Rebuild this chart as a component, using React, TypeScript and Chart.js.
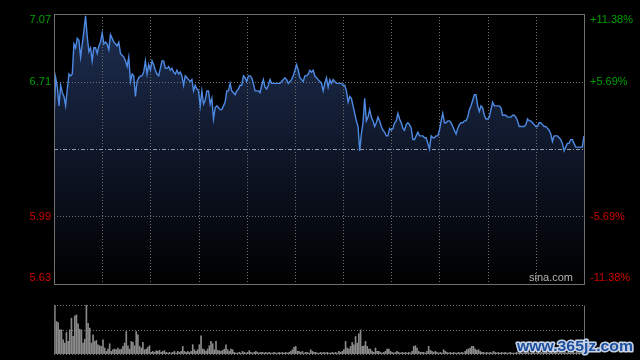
import { useEffect, useRef } from "react";
import { Chart, registerables } from "chart.js";

Chart.register(...registerables);

const prices: number[] = [
  6.51, 6.73, 6.68, 6.58, 6.69, 6.65, 6.63, 6.58, 6.67, 6.75,
  6.74, 6.75, 6.91, 6.89, 6.94, 6.93, 6.84, 6.91, 6.98, 7.06,
  6.95, 6.87, 6.89, 6.82, 6.89, 6.89, 6.86, 6.90, 6.92, 6.97,
  6.91, 6.92, 6.91, 6.88, 6.96, 6.94, 6.92, 6.91, 6.90, 6.92,
  6.86, 6.85, 6.84, 6.82, 6.79, 6.84, 6.71, 6.75, 6.74, 6.63,
  6.71, 6.73, 6.74, 6.74, 6.76, 6.82, 6.75, 6.80, 6.77, 6.82,
  6.80, 6.77, 6.75, 6.74, 6.78, 6.82, 6.82, 6.78, 6.78, 6.79,
  6.77, 6.78, 6.76, 6.75, 6.77, 6.75, 6.76, 6.74, 6.69, 6.74,
  6.73, 6.72, 6.71, 6.72, 6.66, 6.69, 6.67, 6.66, 6.58, 6.66,
  6.59, 6.61, 6.66, 6.66, 6.59, 6.62, 6.51, 6.57, 6.58, 6.57,
  6.56, 6.56, 6.58, 6.60, 6.66, 6.66, 6.70, 6.66, 6.65, 6.64,
  6.66, 6.67, 6.69, 6.69, 6.74, 6.73, 6.71, 6.74, 6.74, 6.73,
  6.70, 6.66, 6.66, 6.66, 6.65, 6.69, 6.72, 6.68, 6.67, 6.69,
  6.72, 6.70, 6.70, 6.70, 6.70, 6.70, 6.70, 6.71, 6.72, 6.73,
  6.72, 6.70, 6.71, 6.72, 6.74, 6.77, 6.80, 6.77, 6.73, 6.72,
  6.71, 6.74, 6.74, 6.75, 6.77, 6.76, 6.77, 6.74, 6.73, 6.72,
  6.71, 6.70, 6.66, 6.70, 6.73, 6.68, 6.72, 6.70, 6.72, 6.71,
  6.70, 6.70, 6.70, 6.70, 6.69, 6.69, 6.66, 6.60, 6.63, 6.62,
  6.58, 6.54, 6.50, 6.47, 6.34, 6.43, 6.49, 6.62, 6.50, 6.52,
  6.56, 6.52, 6.50, 6.47, 6.49, 6.52, 6.50, 6.47, 6.45, 6.44,
  6.42, 6.42, 6.46, 6.45, 6.46, 6.49, 6.50, 6.54, 6.51, 6.49,
  6.46, 6.45, 6.48, 6.49, 6.48, 6.46,
  6.40, 6.40, 6.42, 6.44, 6.42, 6.42, 6.42, 6.41, 6.41, 6.38,
  6.35, 6.42, 6.41, 6.41, 6.42, 6.42, 6.45, 6.50, 6.54, 6.49,
  6.49, 6.50, 6.50, 6.49, 6.47, 6.45, 6.43, 6.46, 6.48, 6.49,
  6.49, 6.50, 6.50, 6.52, 6.56, 6.58, 6.61, 6.64, 6.64, 6.58,
  6.55, 6.58, 6.57, 6.53, 6.51, 6.51, 6.52, 6.56, 6.60, 6.58,
  6.58, 6.58, 6.58, 6.57, 6.53, 6.53, 6.53, 6.52, 6.52, 6.52,
  6.53, 6.53, 6.52, 6.50, 6.47, 6.47, 6.47, 6.47, 6.48, 6.51,
  6.50, 6.50, 6.49, 6.48, 6.47, 6.47, 6.49, 6.49, 6.48, 6.47,
  6.47, 6.46, 6.45, 6.43, 6.39, 6.42, 6.42, 6.42, 6.41, 6.40,
  6.38, 6.34, 6.36, 6.38, 6.38, 6.40, 6.40, 6.38, 6.36, 6.36,
  6.36, 6.36, 6.36, 6.42,
];

const volumes: number[] = [
  2960, 1960, 1900, 1460, 1460, 860, 660, 1300, 760, 1460,
  2160, 1060, 2300, 2360, 1820, 1500, 1460, 660, 900, 2960,
  1860, 1560, 660, 1160, 760, 820, 560, 500, 460, 860,
  360, 160, 300, 620, 160, 260, 300, 260, 360, 260,
  300, 460, 660, 1360, 500, 300, 760, 700, 500, 1360,
  1160, 460, 360, 700, 260, 300, 400, 500, 100, 160,
  100, 200, 160, 220, 100, 160, 200, 100, 60, 100,
  60, 100, 160, 60, 160, 100, 160, 460, 160, 100,
  160, 100, 160, 560, 260, 160, 260, 560, 1100, 300,
  260, 160, 300, 500, 760, 620, 260, 760, 220, 200,
  160, 220, 300, 560, 260, 160, 300, 260, 100, 60,
  60, 100, 60, 160, 100, 60, 100, 200, 100, 60,
  100, 160, 100, 60, 100, 100, 60, 100, 60, 100,
  60, 60, 100, 60, 60, 100, 60, 100, 60, 100,
  60, 100, 160, 260, 400, 460, 160, 160, 100, 160,
  60, 100, 100, 60, 260, 160, 100, 100, 60,
  60, 100, 60, 100, 60, 100, 60, 60, 100, 60,
  100, 60, 160, 100, 160, 260, 760, 360, 300, 460,
  700, 560, 1060, 660, 1220, 1460, 460, 500, 760, 460,
  300, 300, 160, 100, 360, 160, 160, 100, 60, 100,
  160, 300, 300, 160, 100, 60, 100, 160, 100, 60,
  100, 60, 100, 60, 100, 60, 160, 460, 500, 360,
  160, 100, 100, 100, 60, 160, 460, 220, 160, 100,
  160, 100, 60, 100, 60, 260, 160, 100, 60, 100,
  60, 100, 60, 60, 100, 60, 100, 60, 160, 260,
  300, 360, 460, 460, 300, 220, 260, 160, 100, 100,
  60, 100, 60, 100, 60, 160, 100, 60, 100, 60,
  100, 60, 100, 60, 60, 100, 60, 60, 60,
  100, 60, 100, 60, 60, 100, 60, 100, 60, 60,
  100, 60, 60, 100, 60, 100, 60, 60, 100, 60,
  60, 100, 60, 100, 60, 60, 100, 60, 60, 100,
  60, 100, 60, 60, 100, 60, 100, 60, 60, 100,
  160,
];

const prevClose = 6.35;
const priceMin = 5.63;
const priceMax = 7.07;
const priceTicks = [5.63, 5.99, 6.35, 6.71, 7.07];
const priceLabels = ["5.63", "5.99", "", "6.71", "7.07"];
const pctLabels = ["-11.38%", "-5.69%", "", "+5.69%", "+11.38%"];
const sourceText = "sina.com";
const watermarkText = "www.365jz.com";

const GRID = "#6e6e6e";
const FRAME = "#707070";
const FONT = '11px "Liberation Sans", Arial, sans-serif';

export default function App() {
  const priceRef = useRef<HTMLCanvasElement | null>(null);
  const volRef = useRef<HTMLCanvasElement | null>(null);

  useEffect(() => {
    const N = prices.length;

    const pricePlugin = {
      id: "priceDecor",
      beforeDatasetsDraw(chart: any) {
        const { ctx, chartArea: a, scales } = chart;
        const xs = scales.x;
        const ys = scales.y;
        ctx.save();
        ctx.lineWidth = 1;
        ctx.strokeStyle = GRID;
        ctx.setLineDash([1, 2]);
        for (let k = 1; k < 11; k++) {
          const x = Math.round(xs.getPixelForValue((k * (N - 1)) / 11)) + 0.5;
          ctx.beginPath();
          ctx.moveTo(x, a.top);
          ctx.lineTo(x, a.bottom);
          ctx.stroke();
        }
        [5.99, 6.71].forEach((v) => {
          const y = Math.round(ys.getPixelForValue(v)) + 0.5;
          ctx.beginPath();
          ctx.moveTo(a.left, y);
          ctx.lineTo(a.right, y);
          ctx.stroke();
        });
        ctx.strokeStyle = "#8f9aac";
        ctx.setLineDash([4, 2, 1, 2]);
        const yc = Math.round(ys.getPixelForValue(prevClose)) + 0.5;
        ctx.beginPath();
        ctx.moveTo(a.left, yc);
        ctx.lineTo(a.right, yc);
        ctx.stroke();
        ctx.restore();
      },
      afterDraw(chart: any) {
        const { ctx, chartArea: a, scales } = chart;
        const ys = scales.y;
        ctx.save();
        ctx.strokeStyle = FRAME;
        ctx.lineWidth = 1;
        ctx.setLineDash([]);
        ctx.strokeRect(
          Math.round(a.left) + 0.5,
          Math.round(a.top) + 0.5,
          Math.round(a.right - a.left),
          Math.round(a.bottom - a.top)
        );
        ctx.font = FONT;
        ctx.textBaseline = "middle";
        priceTicks.forEach((v, i) => {
          let y = ys.getPixelForValue(v);
          if (i === priceTicks.length - 1) y += 6;
          if (i === 0) y -= 6;
          const col = v > prevClose ? "#00a000" : "#d00000";
          ctx.fillStyle = col;
          ctx.textAlign = "right";
          if (priceLabels[i]) ctx.fillText(priceLabels[i], a.left - 3, y);
          ctx.textAlign = "left";
          if (pctLabels[i]) ctx.fillText(pctLabels[i], a.right + 6, y);
        });
        ctx.fillStyle = "#b4b4b4";
        ctx.textAlign = "right";
        ctx.fillText(sourceText, a.right - 11, a.bottom - 6);
        ctx.restore();
      },
    };

    const priceChart = new Chart(priceRef.current as HTMLCanvasElement, {
      type: "line",
      data: {
        datasets: [
          {
            data: prices.map((p, i) => ({ x: i, y: p })),
            borderColor: "#4d8ae4",
            borderWidth: 1.4,
            pointRadius: 0,
            tension: 0,
            fill: "start",
            backgroundColor: (c: any) => {
              const { chart } = c;
              const area = chart.chartArea;
              if (!area) return "rgba(0,0,0,0)";
              const g = chart.ctx.createLinearGradient(0, area.top, 0, area.bottom);
              g.addColorStop(0, "#1f2f52");
              g.addColorStop(0.5, "#0f1729");
              g.addColorStop(1, "#000000");
              return g;
            },
          },
        ],
      },
      options: {
        responsive: false,
        animation: false,
        devicePixelRatio: 1,
        layout: { padding: { left: 54, right: 56, top: 14, bottom: 6 } },
        scales: {
          x: { type: "linear", display: false, min: 0, max: N - 1 },
          y: { display: false, min: priceMin, max: priceMax },
        },
        plugins: {
          legend: { display: false },
          tooltip: { enabled: false },
          filler: { drawTime: "beforeDatasetsDraw" },
        } as any,
      },
      plugins: [pricePlugin],
    });

    const volMax = Math.max(...volumes);
    const volPlugin = {
      id: "volDecor",
      beforeDatasetsDraw(chart: any) {
        const { ctx, chartArea: a, scales } = chart;
        const ys = scales.y;
        ctx.save();
        ctx.lineWidth = 1;
        ctx.strokeStyle = GRID;
        ctx.setLineDash([1, 2]);
        [volMax, volMax / 2, 0].forEach((v) => {
          const y = Math.round(ys.getPixelForValue(v)) + 0.5;
          ctx.beginPath();
          ctx.moveTo(a.left, y);
          ctx.lineTo(a.right, y);
          ctx.stroke();
        });
        ctx.restore();
      },
      afterDraw(chart: any) {
        const { ctx, chartArea: a } = chart;
        ctx.save();
        ctx.strokeStyle = FRAME;
        ctx.lineWidth = 1;
        const top = Math.round(a.top) + 0.5;
        const bot = Math.round(a.bottom) + 0.5;
        [Math.round(a.left) + 0.5, Math.round(a.right) + 0.5].forEach((x) => {
          ctx.beginPath();
          ctx.moveTo(x, top);
          ctx.lineTo(x, bot);
          ctx.stroke();
        });
        // watermark
        ctx.font = 'bold 15px "Liberation Sans", Arial, sans-serif';
        const w = ctx.measureText(watermarkText).width;
        ctx.translate(517, 61);
        ctx.scale(116 / w, 1);
        ctx.lineJoin = "round";
        ctx.lineWidth = 3;
        ctx.strokeStyle = "#c9d3e6";
        ctx.strokeText(watermarkText, 0, 0);
        ctx.fillStyle = "#1c4f9e";
        ctx.fillText(watermarkText, 0, 0);
        ctx.restore();
      },
    };

    const volChart = new Chart(volRef.current as HTMLCanvasElement, {
      type: "bar",
      data: {
        labels: volumes.map((_, i) => String(i)),
        datasets: [
          {
            data: volumes,
            backgroundColor: "#8a8a8a",
            barThickness: 1,
            categoryPercentage: 1,
            barPercentage: 1,
          },
        ],
      },
      options: {
        responsive: false,
        animation: false,
        devicePixelRatio: 1,
        layout: { padding: { left: 54, right: 56, top: 15, bottom: 6 } },
        scales: {
          x: { display: false },
          y: { display: false, min: 0, max: volMax },
        },
        plugins: { legend: { display: false }, tooltip: { enabled: false } },
      },
      plugins: [volPlugin],
    });

    return () => {
      priceChart.destroy();
      volChart.destroy();
    };
  }, []);

  return (
    <div
      style={{
        position: "fixed",
        left: 0,
        top: 0,
        width: 640,
        height: 360,
        background: "#000",
        overflow: "hidden",
      }}
    >
      <canvas
        ref={priceRef}
        width={640}
        height={290}
        style={{ position: "absolute", left: 0, top: 0, width: 640, height: 290 }}
      />
      <canvas
        ref={volRef}
        width={640}
        height={70}
        style={{ position: "absolute", left: 0, top: 290, width: 640, height: 70 }}
      />
    </div>
  );
}
